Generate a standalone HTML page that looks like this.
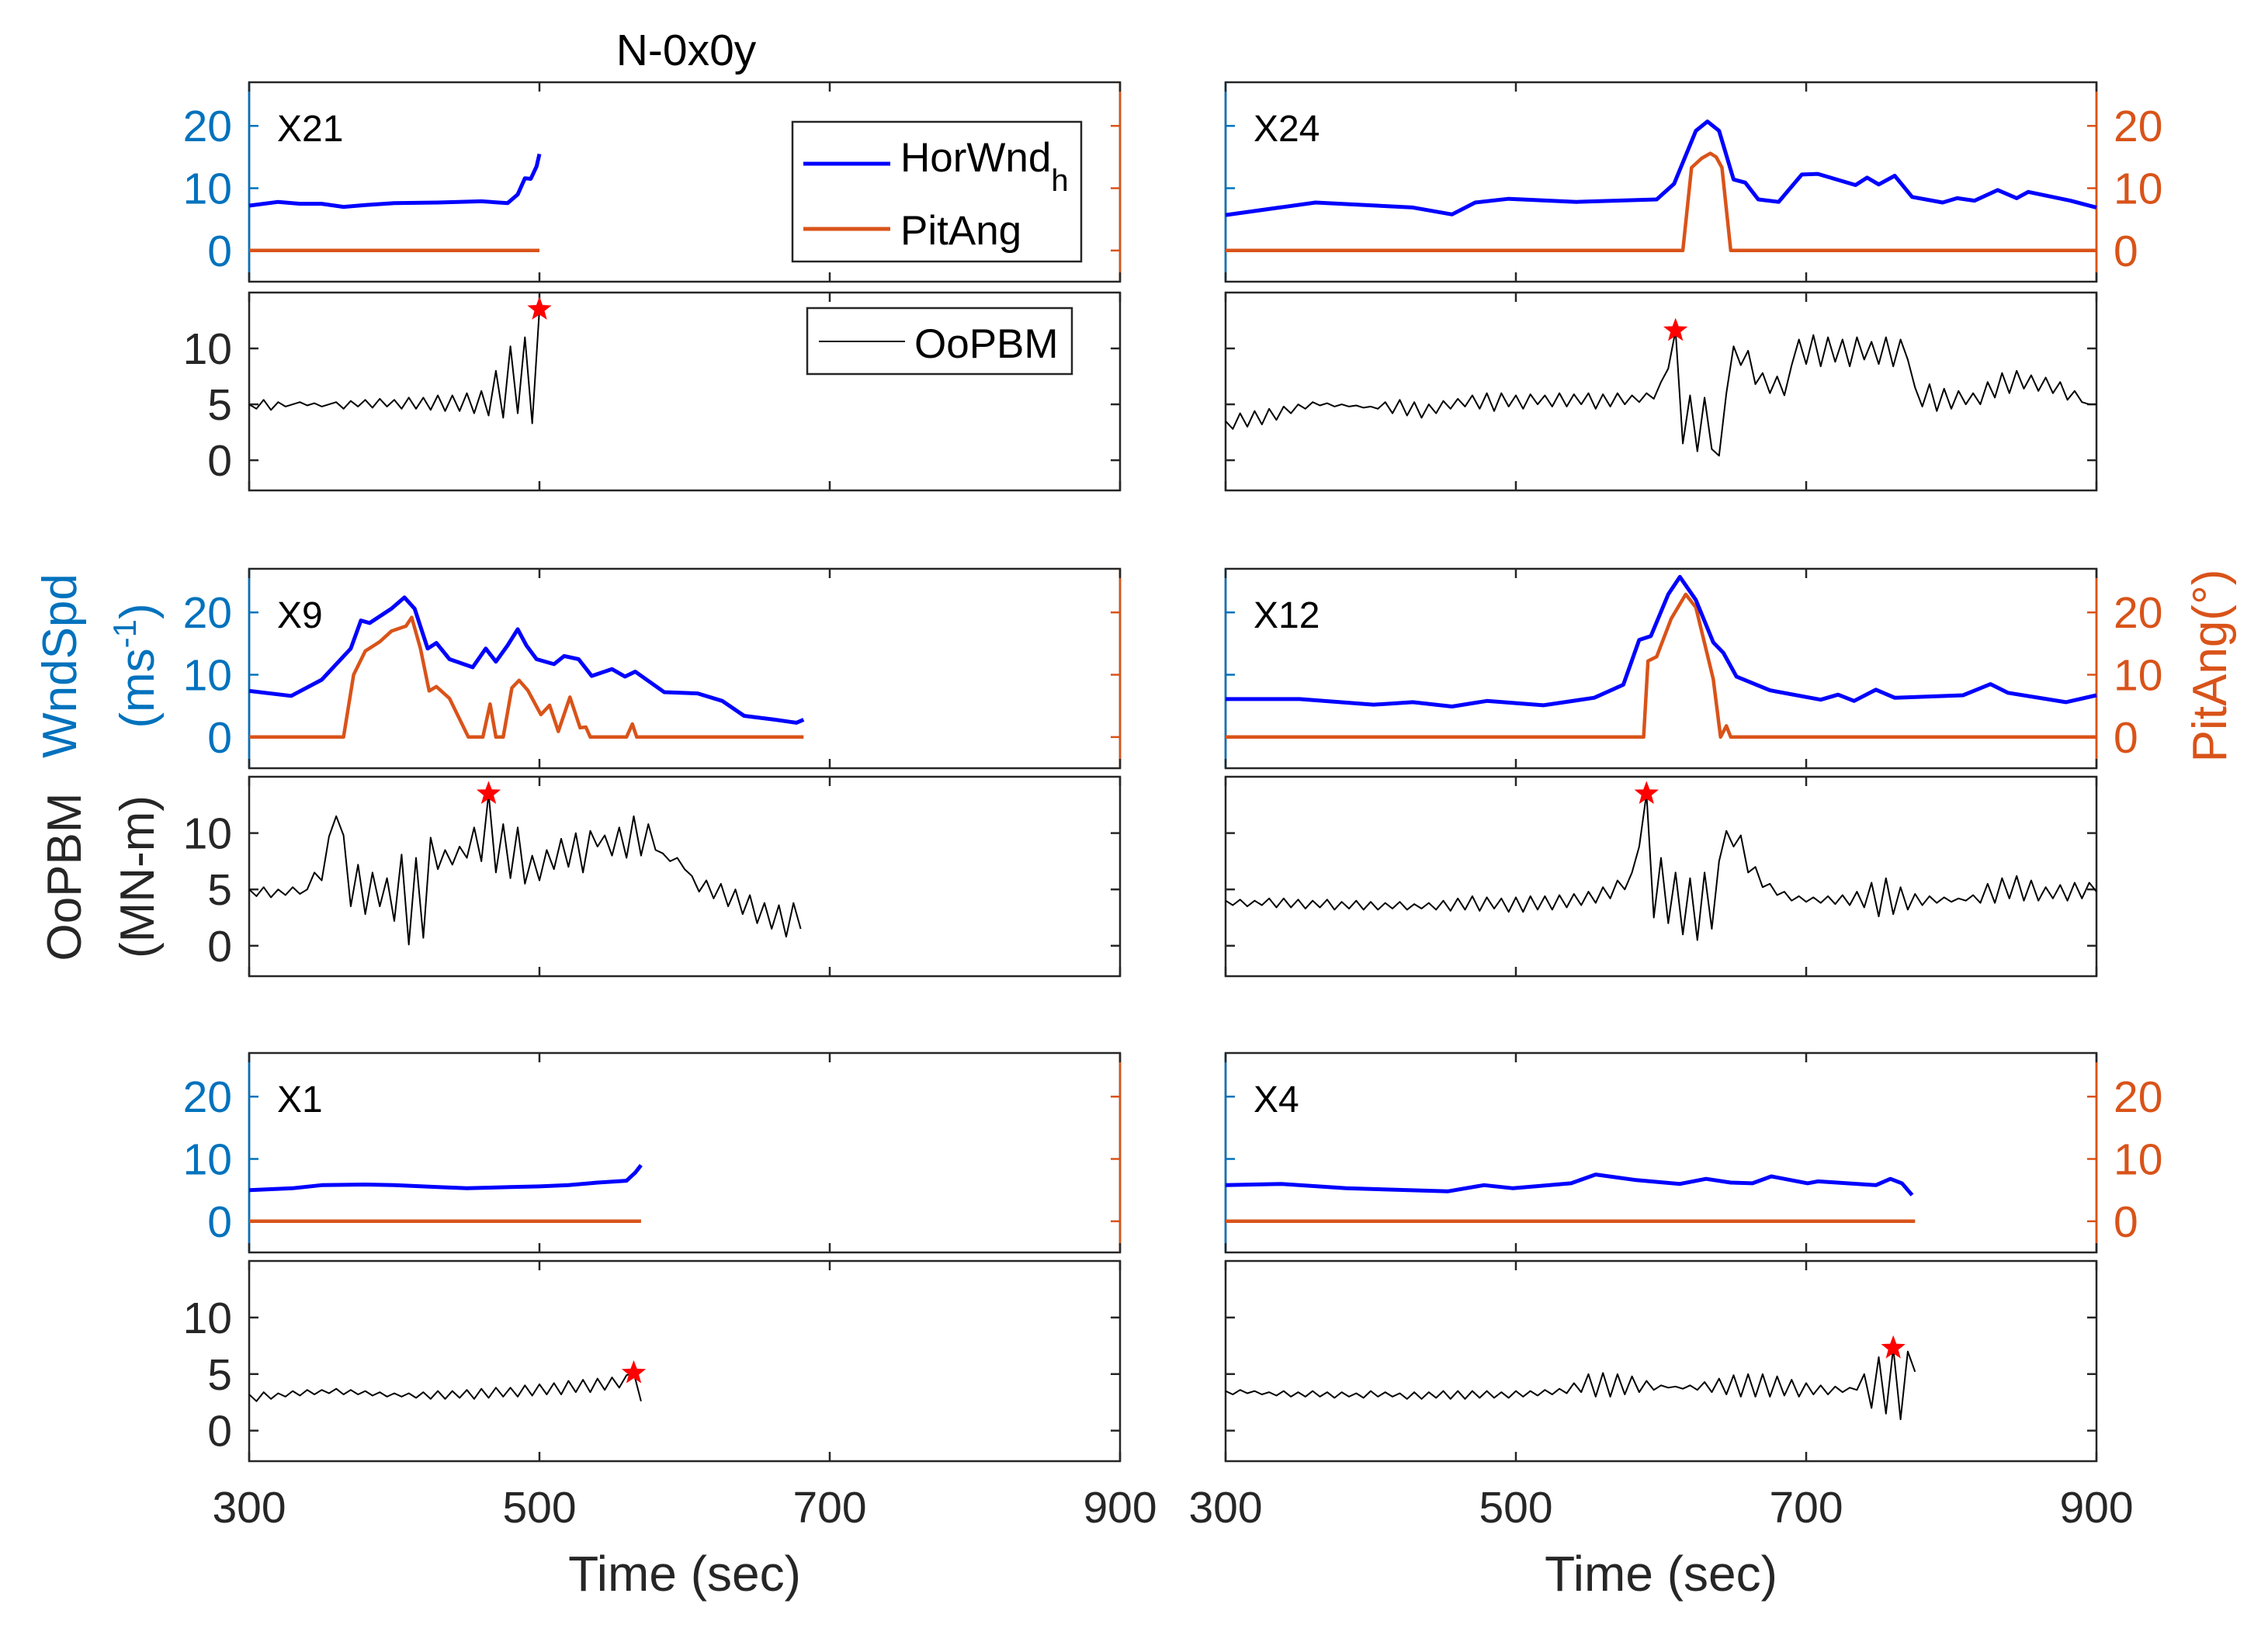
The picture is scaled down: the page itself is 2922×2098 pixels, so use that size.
<!DOCTYPE html>
<html><head><meta charset="utf-8">
<style>
html,body{margin:0;padding:0;background:#fff;}
svg{display:block;font-family:"Liberation Sans",Arial,sans-serif;}
</style></head>
<body>
<svg id="fig" width="2922" height="2098" viewBox="0 0 2922 2098" xmlns="http://www.w3.org/2000/svg">
<text x="884" y="84" font-size="57" text-anchor="middle" fill="#000">N-0x0y</text>
<g id="plots"></g>
<text transform="translate(98,858) rotate(-90)" font-size="62" text-anchor="middle" fill="#0072BD">WndSpd</text>
<text transform="translate(198,858) rotate(-90)" font-size="62" text-anchor="middle" fill="#0072BD">(ms<tspan baseline-shift="super" font-size="42">-1</tspan>)</text>
<text transform="translate(104,1130) rotate(-90)" font-size="62" text-anchor="middle" fill="#262626">OoPBM</text>
<text transform="translate(198,1130) rotate(-90)" font-size="62" text-anchor="middle" fill="#262626">(MN-m)</text>
<text transform="translate(2868,858) rotate(-90)" font-size="62" text-anchor="middle" fill="#D95319">PitAng(°)</text>
<text x="882" y="2050" font-size="64" text-anchor="middle" fill="#262626">Time (sec)</text>
<text x="2140" y="2050" font-size="64" text-anchor="middle" fill="#262626">Time (sec)</text>
<g>
<rect x="1021" y="157" width="372" height="180" fill="#fff" stroke="#262626" stroke-width="2.5"/>
<line x1="1035" y1="211" x2="1147" y2="211" stroke="#0000FF" stroke-width="5"/>
<text x="1160" y="221" font-size="53" fill="#000">HorWnd<tspan font-size="40" dy="25">h</tspan></text>
<line x1="1035" y1="295" x2="1147" y2="295" stroke="#D95319" stroke-width="5"/>
<text x="1160" y="315" font-size="53" fill="#000">PitAng</text>
</g>
<g>
<rect x="1040" y="397" width="341" height="85" fill="#fff" stroke="#262626" stroke-width="2.5"/>
<line x1="1055" y1="440" x2="1166" y2="440" stroke="#000" stroke-width="2"/>
<text x="1178" y="461" font-size="53" fill="#000">OoPBM</text>
</g>
</svg>
<script>
// ---- data ----
const xTicks = [300, 500, 700, 900];
const windTicks = [0, 10, 20];
const bendTicks = [0, 5, 10];
const panelNames = ["X21", "X24", "X9", "X12", "X1", "X4"];

const windT_X21 = [300,320,335,350,365,380,400,430,460,478,485,490,494,498,500];
const windV_X21 = [7.2,7.8,7.5,7.5,7.0,7.3,7.6,7.7,7.9,7.6,9.0,11.6,11.5,13.5,15.5];
const pitchT_X21 = [300,500];
const pitchV_X21 = [0,0];
const bendStart_X21 = 300;
const bendStep_X21 = 5;
const bendV_X21 = [5.0,4.6,5.4,4.5,5.2,4.8,5.0,5.2,4.9,5.1,4.8,5.0,5.2,4.6,5.3,4.8,5.4,4.7,5.5,4.8,5.4,4.6,5.6,4.6,5.6,4.5,5.8,4.4,5.8,4.4,6.0,4.2,6.2,4.0,8.0,3.8,10.2,4.2,11.0,3.3,13.5];

const windT_X24 = [300,362,429,456,472,495,542,597,609,624,632,640,650,658,667,681,697,708,734,742,750,761,773,794,804,816,832,845,853,882,900];
const windV_X24 = [5.7,7.7,6.9,5.8,7.7,8.3,7.8,8.2,10.7,19.2,20.7,19.2,11.4,10.9,8.2,7.8,12.2,12.3,10.5,11.7,10.6,12.0,8.6,7.7,8.4,8.0,9.7,8.4,9.4,8.0,6.9];
const pitchT_X24 = [300,615,621,628,634,638,642,648,900];
const pitchV_X24 = [0,0,13.3,14.8,15.6,15.0,13.3,0,0];
const bendStart_X24 = 300;
const bendStep_X24 = 5;
const bendV_X24 = [3.5,2.8,4.2,3.0,4.4,3.2,4.6,3.6,4.8,4.2,5.0,4.6,5.2,
4.9,5.1,4.8,5.0,4.8,4.9,4.7,4.8,4.6,5.2,4.2,5.4,4.0,5.2,3.8,5.0,4.2,5.3,
4.6,5.5,4.8,5.8,4.6,6.0,4.4,6.0,4.8,5.8,4.6,5.9,5.0,5.8,4.8,6.0,4.8,5.9,5.0,6.0,4.6,5.9,4.8,6.0,5.0,5.8,5.2,6.0,5.5,
7.0,8.2,11.6,1.5,5.8,0.8,5.6,1.0,0.4,6.0,
10.2,8.5,9.8,6.8,7.8,6.0,7.5,5.8,8.5,10.8,
8.6,11.2,8.4,11.0,8.8,10.8,8.4,11.0,9.0,10.6,8.6,11.0,8.4,10.8,9.0,
6.5,4.8,6.8,4.4,6.4,4.6,6.2,5.0,6.0,5.0,7.0,5.6,7.8,6.0,8.0,6.4,7.6,6.2,7.4,6.0,7.0,5.4,6.2,5.2,5.0,5.0];

const windT_X9 = [300,329,350,370,377,383,398,407,414,423,429,438,454,463,470,478,485,491,498,510,517,527,536,550,559,566,586,609,626,641,662,677,682];
const windV_X9 = [7.4,6.6,9.2,14.2,18.7,18.3,20.6,22.4,20.6,14.2,15.1,12.5,11.2,14.2,12.1,14.7,17.3,14.7,12.5,11.7,13.0,12.5,9.8,10.9,9.7,10.5,7.2,7.0,5.8,3.4,2.8,2.3,2.8];
const pitchT_X9 = [300,365,372,380,390,398,408,412,418,424,429,438,451,461,466,470,475,481,486,492,501,507,513,521,528,532,535,560,564,567,682];
const pitchV_X9 = [0,0,10.0,13.8,15.3,17.0,17.8,19.2,14.2,7.4,8.1,6.2,0,0,5.3,0,0,7.9,9.1,7.5,3.6,5.1,0.9,6.4,1.5,1.6,0,0,2.1,0,0];
const bendStart_X9 = 300;
const bendStep_X9 = 5;
const bendV_X9 = [5.0,4.4,5.2,4.3,5.0,4.5,5.2,4.6,5.0,
6.5,5.8,9.7,11.5,9.8,3.5,7.2,2.8,6.5,3.5,6.0,
2.2,8.1,0.1,7.8,0.7,9.6,
6.8,8.5,7.2,8.8,7.8,10.5,7.5,13.5,6.5,
10.8,6.0,10.5,5.5,8.0,5.8,
8.5,6.8,9.5,7.0,10.0,6.5,10.2,8.8,9.8,8.0,10.5,7.8,
11.5,8.0,10.8,8.5,8.2,7.5,7.8,6.8,
6.2,4.8,5.8,4.2,5.5,3.5,5.0,2.8,4.5,2.0,3.8,1.5,3.6,0.8,3.8,1.5];

const windT_X12 = [300,351,402,429,456,480,519,554,574,585,593,605,613,624,636,643,652,675,710,722,733,748,761,808,827,839,879,900];
const windV_X12 = [6.1,6.1,5.2,5.6,4.9,5.8,5.1,6.3,8.4,15.6,16.2,22.9,25.7,22.0,15.2,13.5,9.7,7.5,6.0,6.8,5.8,7.6,6.3,6.7,8.5,7.1,5.6,6.7];
const pitchT_X12 = [300,588,591,597,607,617,624,636,641,645,648,900];
const pitchV_X12 = [0,0,12.2,12.9,19.0,22.9,20.8,9.3,0,1.8,0,0];
const bendStart_X12 = 300;
const bendStep_X12 = 5;
const bendV_X12 = [4.0,3.6,4.1,3.5,4.0,3.6,4.2,3.4,4.2,3.4,4.1,3.3,4.0,3.4,4.1,3.2,3.9,3.3,4.0,3.2,
3.9,3.2,3.8,3.3,3.9,3.2,3.7,3.3,3.8,3.2,4.0,3.1,4.2,3.2,4.4,3.1,4.3,3.3,4.2,3.0,
4.3,3.0,4.4,3.2,4.4,3.2,4.5,3.4,4.6,3.6,4.8,3.8,5.2,4.2,5.8,5.0,
6.5,8.8,13.5,2.5,7.8,2.0,6.5,1.0,6.0,0.5,6.5,1.5,7.5,
10.2,8.8,9.8,6.5,7.0,5.2,5.5,4.5,4.8,4.0,4.4,3.9,4.3,3.8,4.4,3.7,4.5,3.6,4.8,3.4,
5.6,2.6,6.0,2.8,5.2,3.2,4.6,3.6,4.4,3.8,4.3,3.9,4.2,4.0,4.5,3.8,5.5,3.8,6.0,4.2,
6.2,4.0,5.8,4.0,5.2,4.2,5.4,4.0,5.6,4.2,5.6,4.8];

const windT_X1 = [300,330,350,380,400,430,450,480,500,520,540,560,566,570];
const windV_X1 = [5.0,5.3,5.8,5.9,5.8,5.5,5.3,5.5,5.6,5.8,6.2,6.5,7.8,9.0];
const pitchT_X1 = [300,570];
const pitchV_X1 = [0,0];
const bendStart_X1 = 300;
const bendStep_X1 = 5;
const bendV_X1 = [3.2,2.6,3.4,2.8,3.3,3.0,3.5,3.1,3.6,3.2,3.6,3.3,3.7,3.2,3.6,3.2,3.5,3.1,3.4,3.0,3.3,3.0,3.3,2.9,3.4,2.8,3.5,2.8,3.5,2.9,3.6,2.8,3.7,2.9,3.8,3.0,3.8,3.0,4.0,3.1,4.1,3.2,4.2,3.2,4.4,3.4,4.5,3.4,4.6,3.6,4.7,3.8,4.9,5.1,2.6];

const windT_X4 = [300,338,383,453,478,498,538,555,583,613,631,648,663,676,701,708,748,758,766,773];
const windV_X4 = [5.8,6.0,5.3,4.8,5.8,5.3,6.1,7.5,6.6,6.0,6.8,6.2,6.1,7.2,6.1,6.4,5.8,6.8,6.1,4.2];
const pitchT_X4 = [300,775];
const pitchV_X4 = [0,0];
const bendStart_X4 = 300;
const bendStep_X4 = 5;
const bendV_X4 = [3.5,3.2,3.6,3.3,3.5,3.2,3.4,3.1,3.5,3.0,3.4,3.0,3.5,3.0,3.4,2.9,3.4,3.0,3.3,2.9,3.5,3.0,3.4,3.0,3.3,2.8,3.4,2.8,3.4,2.9,3.5,2.8,3.5,2.8,3.5,2.9,3.5,2.9,3.4,2.9,
3.5,3.0,3.5,3.1,3.6,3.2,3.7,3.3,4.2,3.4,
5.0,3.0,5.1,3.0,5.0,3.2,4.8,3.4,4.4,3.6,
4.0,3.8,3.9,3.7,4.0,3.6,4.3,3.4,4.6,3.2,
4.9,3.0,5.0,3.0,5.0,3.0,4.8,3.1,4.5,3.0,
4.2,3.2,4.0,3.2,3.9,3.4,3.8,3.6,5.0,2.0,
6.5,1.5,7.3,1.0,7.0,5.2];

// ---- layout ----
const NS = "http://www.w3.org/2000/svg";
const cols = [{x0:321,x1:1443},{x0:1579,x1:2701}];
const rows = [{t:[106,363],b:[377,632]},{t:[733,990],b:[1001,1258]},{t:[1357,1614],b:[1625,1883]}];
const topLim = [-5, 27], botLim = [-2.7, 15], xLim = [300, 900];
const panels = [
 {wt:windT_X21,wv:windV_X21,pt:pitchT_X21,pv:pitchV_X21,bs:bendStart_X21,bd:bendStep_X21,bv:bendV_X21},
 {wt:windT_X24,wv:windV_X24,pt:pitchT_X24,pv:pitchV_X24,bs:bendStart_X24,bd:bendStep_X24,bv:bendV_X24},
 {wt:windT_X9,wv:windV_X9,pt:pitchT_X9,pv:pitchV_X9,bs:bendStart_X9,bd:bendStep_X9,bv:bendV_X9},
 {wt:windT_X12,wv:windV_X12,pt:pitchT_X12,pv:pitchV_X12,bs:bendStart_X12,bd:bendStep_X12,bv:bendV_X12},
 {wt:windT_X1,wv:windV_X1,pt:pitchT_X1,pv:pitchV_X1,bs:bendStart_X1,bd:bendStep_X1,bv:bendV_X1},
 {wt:windT_X4,wv:windV_X4,pt:pitchT_X4,pv:pitchV_X4,bs:bendStart_X4,bd:bendStep_X4,bv:bendV_X4}
];
const root = document.getElementById("plots");
function mk(tag, attrs, parent){const e=document.createElementNS(NS,tag);for(const k in attrs)e.setAttribute(k,attrs[k]);(parent||root).appendChild(e);return e;}
function xs(c){return t=>c.x0+(t-xLim[0])/(xLim[1]-xLim[0])*(c.x1-c.x0);}
function ys(r,lim){return v=>r[1]-(v-lim[0])/(lim[1]-lim[0])*(r[1]-r[0]);}
function pathD(ts,vs,X,Y){return ts.map((t,i)=>(i?"L":"M")+X(t).toFixed(1)+","+Y(vs[i]).toFixed(1)).join("");}
function starPts(cx,cy,R){const p=[];for(let i=0;i<10;i++){const a=-Math.PI/2+i*Math.PI/5;const r=i%2?R*0.42:R;p.push((cx+r*Math.cos(a)).toFixed(1)+","+(cy+r*Math.sin(a)).toFixed(1));}return p.join(" ");}

panels.forEach((p,i)=>{
  const c = cols[i%2], r = rows[Math.floor(i/2)], isLeft = i%2===0;
  const X = xs(c), YT = ys(r.t, topLim), YB = ys(r.b, botLim);
  const g = mk("g",{});
  
  
  const tb = mk("rect",{x:c.x0,y:r.t[0],width:c.x1-c.x0,height:r.t[1]-r.t[0],fill:"none",stroke:"#262626","stroke-width":2.5},g);
  
  
  const ls = mk("line",{x1:c.x0,y1:r.t[0],x2:c.x0,y2:r.t[1],stroke:"#0072BD","stroke-width":2.5},g);
  
  
  const rs = mk("line",{x1:c.x1,y1:r.t[0],x2:c.x1,y2:r.t[1],stroke:"#D95319","stroke-width":2.5},g);
  
  
  windTicks.forEach(v=>{
    const y=YT(v);
    mk("line",{x1:c.x0,y1:y,x2:c.x0+12,y2:y,stroke:"#0072BD","stroke-width":2.5},g);
    mk("line",{x1:c.x1,y1:y,x2:c.x1-12,y2:y,stroke:"#D95319","stroke-width":2.5},g);
    const tl = isLeft ? mk("text",{x:c.x0-22,y:y+20,"font-size":57,"text-anchor":"end",fill:"#0072BD"},g)
                      : mk("text",{x:c.x1+22,y:y+20,"font-size":57,"text-anchor":"start",fill:"#D95319"},g);
    tl.textContent = v;
    
    
  });
  const bb = mk("rect",{x:c.x0,y:r.b[0],width:c.x1-c.x0,height:r.b[1]-r.b[0],fill:"none",stroke:"#262626","stroke-width":2.5},g);
  
  
  bendTicks.forEach(v=>{
    const y=YB(v);
    mk("line",{x1:c.x0,y1:y,x2:c.x0+12,y2:y,stroke:"#262626","stroke-width":2.5},g);
    mk("line",{x1:c.x1,y1:y,x2:c.x1-12,y2:y,stroke:"#262626","stroke-width":2.5},g);
    if(isLeft){
      const tl = mk("text",{x:c.x0-22,y:y+20,"font-size":57,"text-anchor":"end",fill:"#262626"},g);
      tl.textContent = v;
      
      
    }
  });
  xTicks.forEach(t=>{
    const x=X(t);
    [r.t,r.b].forEach(rr=>{
      mk("line",{x1:x,y1:rr[0],x2:x,y2:rr[0]+12,stroke:"#262626","stroke-width":2.5},g);
      mk("line",{x1:x,y1:rr[1],x2:x,y2:rr[1]-12,stroke:"#262626","stroke-width":2.5},g);
    });
    if(i>=4){
      const xl = mk("text",{x:x,y:1962,"font-size":57,"text-anchor":"middle",fill:"#262626"},g);
      xl.textContent = t;
      
      
    }
  });
  const pl = mk("text",{x:c.x0+36,y:r.t[0]+76,"font-size":48,fill:"#000"},g);
  pl.textContent = panelNames[i];
  
  
  const pp = mk("path",{d:pathD(p.pt,p.pv,X,YT),fill:"none",stroke:"#D95319","stroke-width":4.5,"stroke-linejoin":"round"},g);
  
  
  const wp = mk("path",{d:pathD(p.wt,p.wv,X,YT),fill:"none",stroke:"#0000FF","stroke-width":5,"stroke-linejoin":"round"},g);
  
  
  const bt = p.bv.map((v,k)=>p.bs+k*p.bd);
  const bp = mk("path",{d:pathD(bt,p.bv,X,YB),fill:"none",stroke:"#000","stroke-width":2,"stroke-linejoin":"round"},g);
  
  
  let mi=0; p.bv.forEach((v,k)=>{if(v>p.bv[mi])mi=k;});
  const st = mk("polygon",{points:starPts(X(bt[mi]),YB(p.bv[mi]),15),fill:"#FF0000",stroke:"#FF0000","stroke-width":1},g);
  
  
});
</script>
</body></html>
